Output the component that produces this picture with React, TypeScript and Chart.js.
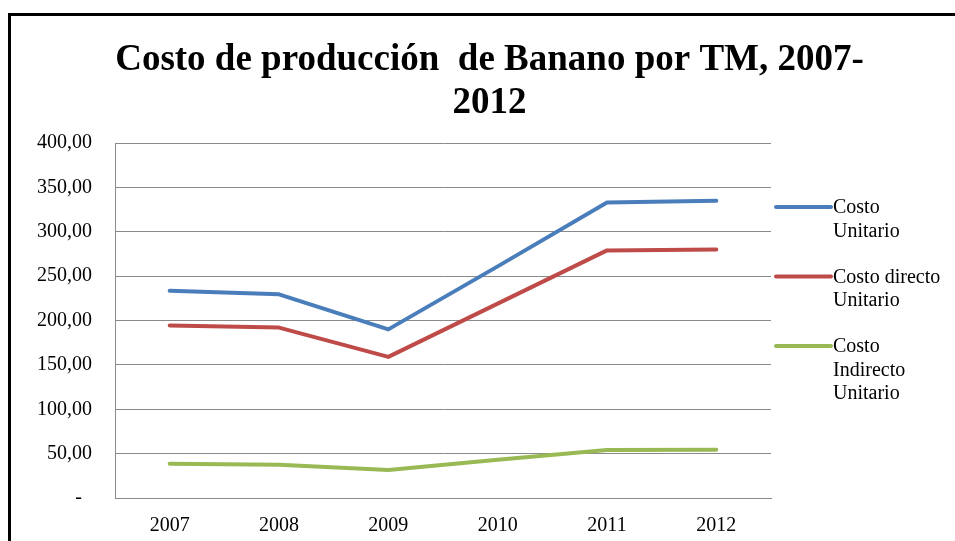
import React, { useEffect, useRef } from "react";
import { Chart, registerables } from "chart.js";

Chart.register(...registerables);

const titleLines = ["Costo de producción  de Banano por TM, 2007-", "2012"];
const categories = ["2007", "2008", "2009", "2010", "2011", "2012"];
const costoUnitario = [233.5, 229.5, 190, 261, 333, 335];
const costoDirectoUnitario = [194.5, 192, 159, 219, 279, 280];
const costoIndirectoUnitario = [38.5, 37.5, 31.5, 43, 54, 54.5];
const seriesLabels = [
  ["Costo", "Unitario"],
  ["Costo directo", "Unitario"],
  ["Costo", "Indirecto", "Unitario"],
];
const seriesColors = ["#4A7EBB", "#BE4B48", "#98B954"];
const yMin = 0;
const yMax = 400;
const yStep = 50;

const SERIF = "'Liberation Serif', 'Times New Roman', serif";

const titlePlugin = {
  id: "customTitle",
  afterDraw(chart: any) {
    const ctx = chart.ctx;
    ctx.save();
    ctx.fillStyle = "#000";
    ctx.font = `bold 37px ${SERIF}`;
    ctx.textAlign = "center";
    ctx.textBaseline = "alphabetic";
    const cx = chart.width / 2 + 12;
    titleLines.forEach((line, i) => {
      ctx.fillText(line, cx, 70 + i * 43);
    });
    ctx.restore();
  },
};

const legendPlugin = {
  id: "customLegend",
  afterDraw(chart: any) {
    const ctx = chart.ctx;
    const area = chart.chartArea;
    const x1 = area.right + 5;
    const x2 = x1 + 55;
    const tx = x2 + 2;
    const lh = 23.5;
    let y = area.top + 64;
    ctx.save();
    ctx.font = `20px ${SERIF}`;
    ctx.textBaseline = "middle";
    ctx.textAlign = "left";
    chart.data.datasets.forEach((ds: any) => {
      const lines: string[] = ds.label;
      ctx.strokeStyle = ds.borderColor;
      ctx.lineWidth = 4;
      ctx.lineCap = "round";
      ctx.beginPath();
      ctx.moveTo(x1, y);
      ctx.lineTo(x2, y);
      ctx.stroke();
      ctx.fillStyle = "#000";
      lines.forEach((t, i) => ctx.fillText(t, tx, y + 1 + i * lh));
      y += (lines.length + 1) * lh - 1;
    });
    ctx.restore();
  },
};

export default function App() {
  const ref = useRef<HTMLCanvasElement | null>(null);

  useEffect(() => {
    if (!ref.current) return;
    const gridColor = "#8A8A8A";
    const chart = new Chart(ref.current, {
      type: "line",
      data: {
        labels: categories,
        datasets: [costoUnitario, costoDirectoUnitario, costoIndirectoUnitario].map((d, i) => ({
          label: seriesLabels[i] as any,
          data: d,
          borderColor: seriesColors[i],
          backgroundColor: seriesColors[i],
          borderWidth: 4,
          pointRadius: 0,
          pointHoverRadius: 0,
          tension: 0,
          fill: false,
          borderCapStyle: "round",
          borderJoinStyle: "round",
        })),
      },
      options: {
        responsive: false,
        animation: false,
        devicePixelRatio: 1,
        layout: { padding: { left: 0, right: 184, top: 143, bottom: 0 } },
        plugins: {
          legend: { display: false },
          title: { display: false },
          tooltip: { enabled: false },
        },
        scales: {
          x: {
            offset: true,
            grid: { color: "rgba(0,0,0,0)", drawTicks: false, offset: true },
            border: { display: true, color: gridColor, width: 1 },
            ticks: {
              color: "#000",
              font: { family: SERIF, size: 20 },
              padding: 16,
              maxRotation: 0,
            },
            afterFit(scale: any) {
              scale.height = 43;
            },
          },
          y: {
            min: yMin,
            max: yMax,
            grid: { color: gridColor, drawTicks: false, lineWidth: 1 },
            border: { display: true, color: gridColor, width: 1 },
            ticks: {
              stepSize: yStep,
              color: "#000",
              font: { family: SERIF, size: 20 },
              padding: 23,
              callback: (v: any) =>
                Number(v) === 0 ? "-  " : Number(v).toFixed(2).replace(".", ","),
            },
            afterFit(scale: any) {
              scale.width = 115;
            },
          },
        },
      },
      plugins: [titlePlugin, legendPlugin],
    });
    return () => chart.destroy();
  }, []);

  return (
    <div>
      <div
        style={{
          position: "fixed",
          left: 8,
          top: 13,
          width: 1100,
          height: 700,
          border: "3px solid #000",
          boxSizing: "border-box",
          background: "#fff",
        }}
      />
      <canvas
        ref={ref}
        width={955}
        height={541}
        style={{ position: "fixed", left: 0, top: 0, width: 955, height: 541 }}
      />
    </div>
  );
}
